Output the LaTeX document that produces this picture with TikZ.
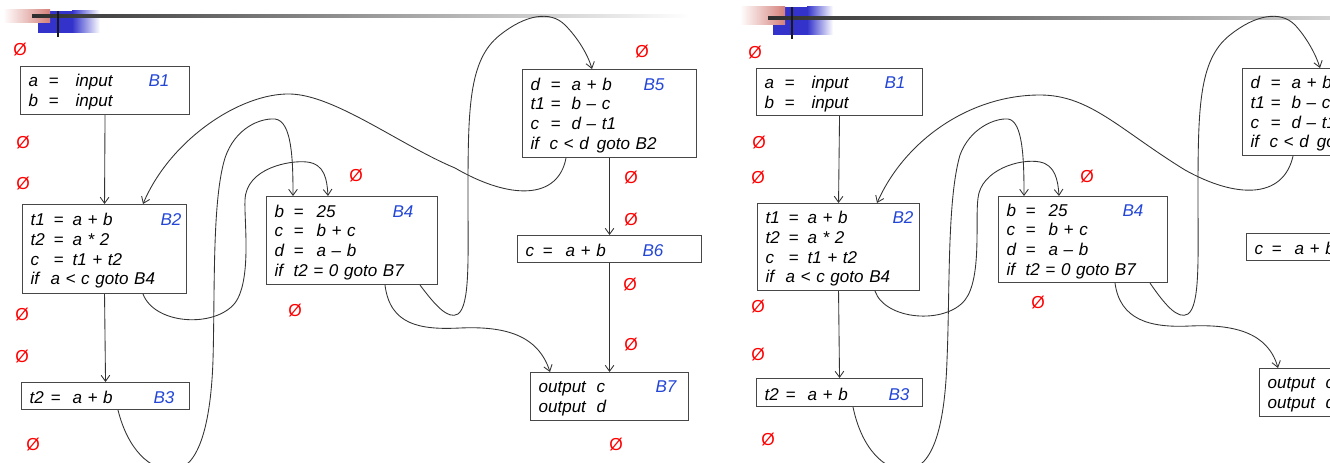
\documentclass[tikz,border=0pt]{standalone}
\usepackage{fontspec}
\setmainfont{Liberation Sans}
\usetikzlibrary{calc,arrows.meta}

\newlength{\px}\setlength{\px}{0.75pt}
\definecolor{blocklbl}{RGB}{35,70,215}
\definecolor{emptyred}{RGB}{255,0,0}
\definecolor{hdrblue}{RGB}{51,51,204}
\definecolor{hdrrose}{RGB}{212,128,122}

% one assignment: variable column, "=" column, expression
\newcommand{\asg}[4]{\makebox[#1\px][l]{#3}\makebox[#2\px][l]{=}#4}
% first line of a block, with the block name at a fixed offset
\newcommand{\withlabel}[3]{\rule{0pt}{12pt}\makebox[#1\px][l]{#2}\textcolor{blocklbl}{#3}}
\newcommand{\codespacing}{\spaceskip=0.33em plus 0.1em\relax}

\begin{document}
\begin{tikzpicture}[x=0.75pt,y=-0.75pt,
  blockbox/.style={draw=black!72, line width=0.8pt, fill=white, anchor=north west,
    align=left, inner xsep=6pt, inner ysep=0pt,
    font=\itshape\fontsize{12.8pt}{14.7pt}\selectfont,
    execute at begin node=\codespacing},
  flow/.style={draw=black!80, line width=0.65pt, -{Straight Barb[length=4.5pt,width=6.5pt]}},
  emptyset/.style={text=emptyred, inner sep=0pt, font=\fontsize{13pt}{14pt}\selectfont},
  hrule/.style={left color=black!82, right color=white},
]
\useasboundingbox (0,0) rectangle (1330,463);
\clip (0,0) rectangle (1330,463);
\fill[white] (0,0) rectangle (1330,463);

% ---------- slide header ornaments ----------
\fill[hdrblue] (38,11) rectangle (72,33);
\shade[left color=hdrblue, right color=white] (72,11) rectangle (100,33);
\shade[left color=white, right color=hdrrose] (3,10) rectangle (50,23);
\shade[hrule] (32,14.8) rectangle (690,17.6);
\fill[black!90] (56.6,11) rectangle (58.6,37);

\fill[hdrblue] (773,7) rectangle (807,35);
\shade[left color=hdrblue, right color=white] (807,7) rectangle (833,35);
\shade[left color=white, right color=hdrrose] (740,7) rectangle (785,25);
\shade[hrule] (768,16.8) rectangle (1480,19.6);
\fill[black!90] (791,7) rectangle (793,39);

% ---------- left flow graph ----------
\node[blockbox, text width=114.75pt, minimum height=36pt] (L1) at (20,66)
  {\withlabel{120}{\asg{20}{27}{a}{input}}{B1}\\ \asg{20}{27}{b}{input}};
\node[blockbox, text width=111pt, minimum height=66.75pt] (L2) at (22,204)
  {\withlabel{130}{\asg{23}{19}{t1}{a + b}}{B2}\\ \asg{23}{19}{t2}{a * 2}\\
   \asg{23}{19}{c}{t1 + t2}\\ \makebox[20\px][l]{if}a < c goto B4};
\node[blockbox, text width=114pt, minimum height=20.25pt] (L3) at (21,382)
  {\withlabel{124}{\asg{21}{22}{t2}{a + b}}{B3}};
\node[blockbox, text width=116.25pt, minimum height=66pt] (L4) at (266,196)
  {\withlabel{118}{\asg{19}{23}{b}{25}}{B4}\\ \asg{19}{23}{c}{b + c}\\
   \asg{19}{23}{d}{a – b}\\ \makebox[19\px][l]{if}t2 = 0 goto B7};
\node[blockbox, text width=118.5pt, minimum height=66pt] (L5) at (522,69)
  {\withlabel{113}{\asg{20}{21}{d}{a + b}}{B5}\\ \asg{20}{21}{t1}{b – c}\\
   \asg{20}{21}{c}{d – t1}\\ \makebox[19\px][l]{if}c < d\hspace{8\px}goto B2};
\node[blockbox, text width=126pt, minimum height=20.25pt] (L6) at (517,235)
  {\withlabel{117}{\asg{17}{23}{c}{a + b}}{B6}};
\node[blockbox, text width=106.5pt, minimum height=36pt] (L7) at (530,372)
  {\withlabel{117}{\makebox[58\px][l]{output}c}{B7}\\ \makebox[58\px][l]{output}d};

\draw[flow] (L1.south) -- (L2.north);
\draw[flow] (L2.south) -- (L3.north);
\draw[flow] (L5.south) -- (L6.north);
\draw[flow] (L6.south) -- (L7.north);
\draw[flow] ($(L5.south west)+(44,0)$) .. controls (558,200) and (510,200) .. (455,168)
  .. controls (400,145) and (335,95) .. (290,94)
  .. controls (240,93) and (170,140) .. ($(L2.north west)+(121,0)$);
\draw[flow] ($(L2.south west)+(121,0)$) .. controls (155,325) and (215,328) .. (235,303)
  .. controls (252,280) and (244,220) .. (245,200)
  .. controls (246,168) and (290,160) .. (307,162)
  .. controls (325,164) and (327,180) .. ($(L4.north west)+(62,0)$);
\draw[flow] ($(L3.south west)+(97,0)$) .. controls (128,450) and (150,470) .. (172,470)
  .. controls (200,470) and (211,420) .. (213,360)
  .. controls (215,290) and (212,200) .. (225,158)
  .. controls (235,128) and (260,118) .. (275,119)
  .. controls (292,121) and (293,160) .. ($(L4.north west)+(27,0)$);
\draw[flow] ($(L4.south west)+(154,0)$) .. controls (435,305) and (448,320) .. (458,314)
  .. controls (470,305) and (468,260) .. (468,200)
  .. controls (468,110) and (468,60) .. (500,35)
  .. controls (525,15) and (550,10) .. (565,25)
  .. controls (578,38) and (588,55) .. ($(L5.north west)+(70,0)$);
\draw[flow] ($(L4.south west)+(119,0)$) .. controls (390,325) and (420,330) .. (460,328)
  .. controls (505,326) and (538,335) .. ($(L7.north west)+(20,0)$);

\node[emptyset] (eL1)  at (20,50)  {Ø};
\node[emptyset] (eL2)  at (23,143) {Ø};
\node[emptyset] (eL3)  at (23,184) {Ø};
\node[emptyset] (eL4)  at (22,315) {Ø};
\node[emptyset] (eL5)  at (22,357) {Ø};
\node[emptyset] (eL6)  at (33,445) {Ø};
\node[emptyset] (eL7)  at (295,311) {Ø};
\node[emptyset] (eL8)  at (356,176) {Ø};
\node[emptyset] (eL9)  at (642,52) {Ø};
\node[emptyset] (eL10) at (631,178) {Ø};
\node[emptyset] (eL11) at (631,220) {Ø};
\node[emptyset] (eL12) at (630,285) {Ø};
\node[emptyset] (eL13) at (631,345) {Ø};
\node[emptyset] (eL14) at (616,445) {Ø};

% ---------- right flow graph ----------
\node[blockbox, text width=112.5pt, minimum height=35.25pt] (R1) at (756,68)
  {\withlabel{120}{\asg{20}{27}{a}{input}}{B1}\\ \asg{20}{27}{b}{input}};
\node[blockbox, text width=109.5pt, minimum height=65.25pt] (R2) at (757,203)
  {\withlabel{127}{\asg{23}{19}{t1}{a + b}}{B2}\\ \asg{23}{19}{t2}{a * 2}\\
   \asg{23}{19}{c}{t1 + t2}\\ \makebox[20\px][l]{if}a < c goto B4};
\node[blockbox, text width=112.5pt, minimum height=21pt] (R3) at (756,378)
  {\withlabel{124}{\asg{21}{22}{t2}{a + b}}{B3}};
\node[blockbox, text width=114.75pt, minimum height=64.5pt] (R4) at (998,196)
  {\withlabel{116}{\asg{19}{23}{b}{25}}{B4}\\ \asg{19}{23}{c}{b + c}\\
   \asg{19}{23}{d}{a – b}\\ \makebox[19\px][l]{if}t2 = 0 goto B7};
\node[blockbox, text width=127.5pt, minimum height=65.25pt] (R5) at (1242,68)
  {\withlabel{113}{\asg{20}{21}{d}{a + b}}{B5}\\ \asg{20}{21}{t1}{b – c}\\
   \asg{20}{21}{c}{d – t1}\\ \makebox[19\px][l]{if}c < d\hspace{8\px}goto B2};
\node[blockbox, text width=126pt, minimum height=20.25pt] (R6) at (1246,233)
  {\withlabel{117}{\asg{17}{23}{c}{a + b}}{B6}};
\node[blockbox, text width=106.5pt, minimum height=36pt] (R7) at (1259,368)
  {\withlabel{117}{\makebox[58\px][l]{output}c}{B7}\\ \makebox[58\px][l]{output}d};

\draw[flow] (R1.south) -- (R2.north);
\draw[flow] (R2.south) -- (R3.north);
\draw[flow] ($(R5.south west)+(51,0)$) .. controls (1283,200) and (1235,198) .. (1185,170)
  .. controls (1120,130) and (1090,95) .. (1040,95)
  .. controls (970,95) and (905,140) .. ($(R2.north west)+(120,0)$);
\draw[flow] ($(R2.south west)+(118,0)$) .. controls (885,320) and (945,325) .. (965,300)
  .. controls (982,278) and (975,220) .. (978,198)
  .. controls (981,170) and (1020,158) .. (1040,162)
  .. controls (1055,165) and (1058,180) .. ($(R4.north west)+(61,0)$);
\draw[flow] ($(R3.south west)+(97,0)$) .. controls (862,450) and (885,470) .. (905,470)
  .. controls (935,470) and (945,420) .. (947,360)
  .. controls (950,290) and (947,200) .. (960,155)
  .. controls (970,128) and (995,118) .. (1008,119)
  .. controls (1023,121) and (1024,160) .. ($(R4.north west)+(26,0)$);
\draw[flow] ($(R4.south west)+(152,0)$) .. controls (1165,305) and (1178,320) .. (1188,314)
  .. controls (1200,305) and (1198,260) .. (1198,200)
  .. controls (1198,110) and (1198,60) .. (1230,35)
  .. controls (1255,15) and (1280,10) .. (1295,25)
  .. controls (1307,38) and (1316,55) .. ($(R5.north west)+(78,0)$);
\draw[flow] ($(R4.south west)+(117,0)$) .. controls (1120,320) and (1150,328) .. (1190,326)
  .. controls (1235,324) and (1268,333) .. ($(R7.north west)+(19,0)$);

\node[emptyset] (eR1) at (755,53)  {Ø};
\node[emptyset] (eR2) at (759,143) {Ø};
\node[emptyset] (eR3) at (758,178) {Ø};
\node[emptyset] (eR4) at (758,307) {Ø};
\node[emptyset] (eR5) at (758,355) {Ø};
\node[emptyset] (eR6) at (768,440) {Ø};
\node[emptyset] (eR7) at (1087,177) {Ø};
\node[emptyset] (eR8) at (1038,303) {Ø};
\end{tikzpicture}
\end{document}
